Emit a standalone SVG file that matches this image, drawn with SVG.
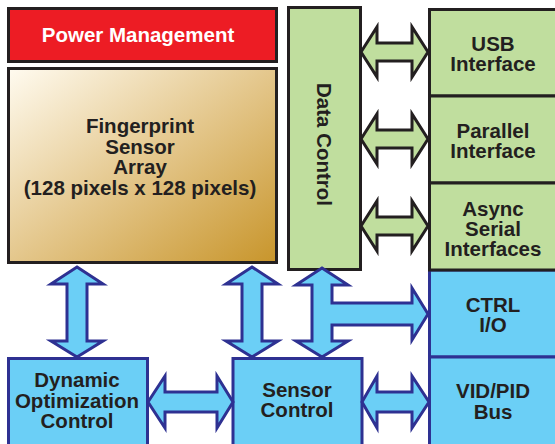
<svg xmlns="http://www.w3.org/2000/svg" width="555" height="444" viewBox="0 0 555 444">
<defs>
<linearGradient id="gold" x1="0" y1="0" x2="1" y2="1">
<stop offset="0" stop-color="#FFFBF0"/>
<stop offset="0.5" stop-color="#E4C78C"/>
<stop offset="1" stop-color="#C8952B"/>
</linearGradient>
<style>
.t{font-family:"Liberation Sans",Arial,sans-serif;font-weight:bold;font-size:20.5px;fill:#231F20;text-anchor:middle}
.w{fill:#FFFFFF}
.dk{stroke:#231F20;stroke-width:3}
.green{fill:#C0DE9E}
.blue{fill:#6BCFF6;stroke:#2E3192;stroke-width:3}
.ga{fill:#C0DE9E;stroke:#231F20;stroke-width:3;stroke-linejoin:miter}
.ba{fill:#6BCFF6;stroke:#2E3192;stroke-width:3;stroke-linejoin:miter}
</style>
</defs>
<rect width="555" height="444" fill="#FFFFFF"/>

<g id="ctrl-io">
<rect class="blue" x="429.5" y="270" width="135" height="87"/>
<text class="t" x="493" y="312">CTRL</text>
<text class="t" x="493" y="332">I/O</text>
</g>
<g id="vid-pid">
<rect class="blue" x="429.5" y="357" width="135" height="100"/>
<text class="t" x="493" y="398">VID/PID</text>
<text class="t" x="493" y="419">Bus</text>
</g>
<g id="usb">
<rect class="green dk" x="429.5" y="9.5" width="135" height="86.5"/>
<text class="t" x="493" y="51">USB</text>
<text class="t" x="493" y="71">Interface</text>
</g>
<g id="parallel">
<rect class="green dk" x="429.5" y="96" width="135" height="87"/>
<text class="t" x="493" y="138">Parallel</text>
<text class="t" x="493" y="158">Interface</text>
</g>
<g id="async">
<rect class="green dk" x="429.5" y="183" width="135" height="87"/>
<text class="t" x="493" y="216">Async</text>
<text class="t" x="493" y="236">Serial</text>
<text class="t" x="493" y="256">Interfaces</text>
</g>

<g id="power">
<rect class="dk" fill="#ED1C24" x="8.5" y="8.5" width="268" height="53"/>
<text class="t w" x="138" y="42">Power Management</text>
</g>
<g id="fingerprint">
<rect class="dk" fill="url(#gold)" x="8.5" y="68.5" width="268" height="194"/>
<text class="t" x="140" y="133">Fingerprint</text>
<text class="t" x="140" y="153.5">Sensor</text>
<text class="t" x="140" y="174">Array</text>
<text class="t" x="140" y="194.5">(128 pixels x 128 pixels)</text>
</g>
<g id="data-control">
<rect class="green dk" x="288.5" y="7.5" width="72" height="262"/>
<text class="t" transform="translate(317,144.5) rotate(90)" x="0" y="0">Data Control</text>
</g>
<g id="dynamic">
<rect class="blue" x="8.5" y="358.5" width="139" height="100"/>
<text class="t" x="77" y="387">Dynamic</text>
<text class="t" x="77" y="408">Optimization</text>
<text class="t" x="77" y="428">Control</text>
</g>
<g id="sensor-control">
<rect class="blue" x="233" y="358.5" width="129" height="100"/>
<text class="t" x="297" y="397">Sensor</text>
<text class="t" x="297" y="417">Control</text>
</g>

<g id="connectors">
<polygon class="ga" points="361,52 377,27 377,43 412,43 412,27 428,52 412,77 412,61 377,61 377,77"/>
<polygon class="ga" points="361,139 377,114 377,130 412,130 412,114 428,139 412,164 412,148 377,148 377,164"/>
<polygon class="ga" points="361,226 377,201 377,217 412,217 412,201 428,226 412,251 412,235 377,235 377,251"/>
<polygon class="ba" points="77,267 103,284 87,284 87,341 103,341 77,357 51,341 67,341 67,284 51,284"/>
<polygon class="ba" points="252,267 278,284 262,284 262,341 278,341 252,357 226,341 242,341 242,284 226,284"/>
<polygon class="ba" points="322,268 348,285 332,285 332,303 412,303 412,288 428,314 412,340 412,325 332,325 332,341 348,341 322,357 296,341 312,341 312,285 296,285"/>
<polygon class="ba" points="148,402 165,376 165,392 217,392 217,376 233,402 217,428 217,412 165,412 165,428"/>
<polygon class="ba" points="362,402 377,376 377,392 412,392 412,376 429,402 412,428 412,412 377,412 377,428"/>
</g>
</svg>
